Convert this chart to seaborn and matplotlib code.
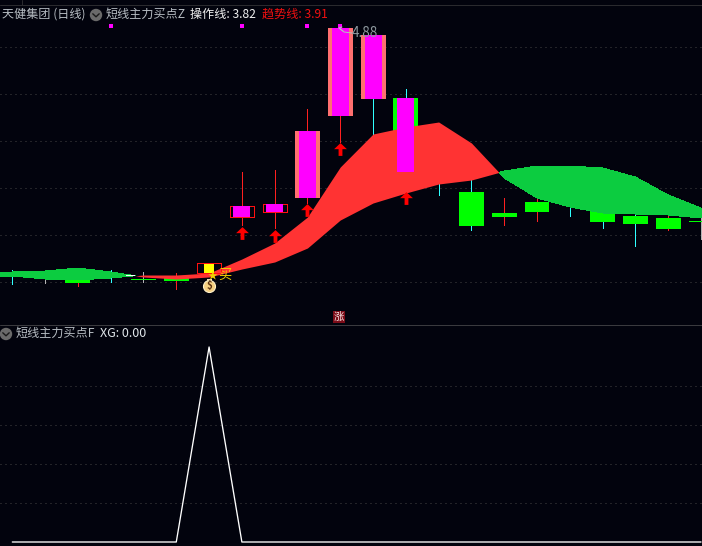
import numpy as np
import seaborn as sns
import matplotlib
matplotlib.use('Agg')
import matplotlib.pyplot as plt
from matplotlib.patches import Circle, Rectangle
from matplotlib.path import Path
from matplotlib.lines import Line2D
from matplotlib.transforms import IdentityTransform

# daily candles, prices
candle_top = [3.534, 3.529, 3.496, 3.529, 3.4955, 3.501, 3.5835, 3.897, 3.908, 4.31, 4.876,
              4.8375, 4.491, 4.26, 3.974, 3.8585, 3.919, 4.0125, 3.93, 3.842, 3.831, 3.8145]
candle_bottom = [3.512, 3.512, 3.474, 3.507, 3.49, 3.4845, 3.5285, 3.8365, 3.864, 3.941, 4.392,
                 4.4855, 4.084, 4.1225, 3.787, 3.8365, 3.864, 3.93, 3.809, 3.798, 3.7705, 3.809]
wick_high = [3.545, 3.545, 3.518, 3.545, 3.534, 3.5285, 3.5835, 4.084, 4.095, 4.43, 4.88,
             4.8375, 4.5405, 4.2, 4.04, 3.941, 3.9575, 4.0675, 3.985, 3.8585, 3.8585, 3.831]
wick_low = [3.468, 3.474, 3.457, 3.479, 3.479, 3.4405, 3.5285, 3.7925, 3.776, 3.9135, 4.249,
            4.2875, 4.084, 3.9575, 3.765, 3.7925, 3.8145, 3.842, 3.776, 3.677, 3.765, 3.7155]
candle_kind = ['down', 'down', 'down', 'down', 'down', 'down', 'box', 'box', 'box', 'up', 'up',
               'up', 'down', 'down', 'down', 'down', 'down', 'down', 'down', 'down', 'down', 'down']
wick_kind = ['cyan', 'grey', 'red', 'cyan', 'grey', 'red', 'red', 'red', 'red', 'red', 'red',
             'cyan', 'cyan', 'cyan', 'cyan', 'red', 'red', 'cyan', 'cyan', 'cyan', 'red', 'grey']

# signal candles drawn over the band
signal_day = [6, 7, 8, 9, 10, 11, 12]
signal_color = ['#ffff00', '#ff00ff', '#ff00ff', '#ff00ff', '#ff00ff', '#ff00ff', '#ff00ff']

# the two lines of the band, first point sits left of the first candle
band_day = list(range(-1, 22))
operate_line = [3.5065, 3.512, 3.4955, 3.49, 3.501, 3.5175, 3.5175, 3.5285, 3.6055, 3.6935, 3.8365, 4.1115,
                4.293, 4.3315, 4.359, 4.2435, 4.051, 3.941, 3.8915, 3.8585, 3.853, 3.8475, 3.831]
trend_line = [3.5285, 3.534, 3.5395, 3.556, 3.534, 3.5065, 3.4955, 3.5065, 3.5505, 3.589, 3.666, 3.82,
              3.9135, 3.9685, 4.018, 4.04, 4.0895, 4.117, 4.117, 4.106, 4.0565, 3.9575, 3.886]

arrow_day = [7, 8, 9, 10, 12]
arrow_price = [3.7485, 3.732, 3.875, 4.2105, 3.941]
dot_day = [3, 7, 9, 10]
dot_price = [4.887, 4.887, 4.887, 4.887]

# lower panel
xg_day = list(range(0, 22))
xg_value = [0, 0, 0, 0, 0, 0, 1, 0, 0, 0, 0, 0, 0, 0, 0, 0, 0, 0, 0, 0, 0, 0]

main_grid = [4.7715, 4.513, 4.2545, 3.996, 3.7375, 3.479]
lower_grid = [0.2, 0.4, 0.6, 0.8]

BG = '#02030d'
WICK = {'cyan': '#30ffff', 'grey': '#b4b4b4', 'red': '#ff2020'}
PX = 0.72  # one pixel in points

sns.set_theme(style='dark', rc={'axes.facecolor': BG, 'figure.facecolor': BG})
plt.rcParams['font.family'] = ['Noto Sans CJK SC', 'DejaVu Sans']

W, H = 702, 546
fig = plt.figure(figsize=(W / 100, H / 100), dpi=100)
ax = fig.add_axes([0, (H - 325) / H, 1, 325 / H])
ax2 = fig.add_axes([0, 0, 1, (H - 325) / H])
xlim = (-0.375, 21.03)

days = np.arange(len(candle_top))
top = np.array(candle_top)
bottom = np.array(candle_bottom)

# wicks
ax.vlines(days, wick_low, wick_high, colors=[WICK[k] for k in wick_kind], lw=PX, zorder=1, antialiased=False)

# candle bodies
for d, t, b, kind in zip(days, top, bottom, candle_kind):
    if kind == 'down':
        ax.bar(d, t - b, bottom=b, width=0.76, color='#00ff00', lw=0, zorder=2, antialiased=False)
    elif kind == 'up':
        ax.bar(d, t - b, bottom=b, width=0.76, color='#ff7070', lw=0, zorder=2, antialiased=False)
    else:
        ax.bar(d, t - b, bottom=b, width=0.74, color=BG, edgecolor='#ff1010', lw=PX, zorder=2, antialiased=False)

# band
op = np.array(operate_line)
tr = np.array(trend_line)
ax.fill_between(band_day, op, tr, where=op >= tr, interpolate=True, color='#ff3333', lw=0, zorder=3, antialiased=False)
ax.fill_between(band_day, op, tr, where=op <= tr, interpolate=True, color='#0ccc40', lw=0, zorder=3, antialiased=False)

# white tick where the lines cross
ax.hlines(3.5175, 3.47, 3.72, colors='white', lw=PX, zorder=4, antialiased=False)

# signal bodies stay over the band
for d, c in zip(signal_day, signal_color):
    w = 0.28 if d == 6 else 0.52
    ax.bar(d, top[d] - bottom[d], bottom=bottom[d], width=w, color=c, lw=0, zorder=4, antialiased=False)
# the signal box keeps its red outline on top of the yellow
ax.bar(6, top[6] - bottom[6], bottom=bottom[6], width=0.74, fill=False, edgecolor='#ff1010', lw=PX, zorder=4,
       antialiased=False)

# up arrows
arrow_path = Path([(-1, 0.05), (0, 1), (1, 0.05), (0.3, 0.05), (0.3, -1), (-0.3, -1), (-0.3, 0.05), (-1, 0.05)],
                  closed=True)
ax.scatter(arrow_day, arrow_price, marker=arrow_path, s=85, color='#ff0000', linewidths=0, zorder=5)

sns.scatterplot(x=dot_day, y=dot_price, ax=ax, marker='s', s=5, color='#ff00ff', linewidth=0, zorder=5)

ax.set_xlim(xlim)
ax.set_ylim(5.03 - 0.0055 * 325, 5.03)
ax.set_yticks(main_grid)
ax.set_xticks([])
ax.tick_params(left=False, labelleft=False, bottom=False)
ax.grid(axis='y', color='#444444', ls=(0, (1, 4)), lw=PX)
ax.set_axisbelow(True)
for s in ax.spines.values():
    s.set_visible(False)

# lower panel
sns.lineplot(x=xg_day, y=xg_value, ax=ax2, color='white', lw=0.95, zorder=3)
ax2.set_xlim(xlim)
ax2.set_ylim(-4 / 195, 217 / 195)
ax2.set_yticks(lower_grid)
ax2.set_xticks([])
ax2.set_xlabel('')
ax2.set_ylabel('')
ax2.tick_params(left=False, labelleft=False, bottom=False)
ax2.grid(axis='y', color='#444444', ls=(0, (1, 4)), lw=PX)
ax2.set_axisbelow(True)
for s in ax2.spines.values():
    s.set_visible(False)


def label(x, y, s, color='#b8bec4', size=8.7, **kw):
    fig.text(x / W, 1 - y / H, s, color=color, fontsize=size, va='center', ha='left', zorder=10, **kw)


def chevron(x, y):
    fig.add_artist(Circle((x, H - y), 6.2, transform=IdentityTransform(), color='#6a6a6a', lw=0, zorder=9))
    fig.add_artist(Line2D([x - 3.2, x, x + 3.2], [H - y + 1.2, H - y - 1.8, H - y + 1.2],
                          transform=IdentityTransform(), color='#1a1a1a', lw=1, zorder=10))


# frame lines
fig.add_artist(Line2D([0, W], [H - 5, H - 5], transform=IdentityTransform(), color='#2a2a2e', lw=PX))
fig.add_artist(Line2D([22, 22], [H - 5, H], transform=IdentityTransform(), color='#2a2a2e', lw=PX))
fig.add_artist(Line2D([0, W], [H - 325, H - 325], transform=IdentityTransform(), color='#3a3a3e', lw=PX, zorder=8))

label(2, 14.5, '天健集团 (日线)')
chevron(96, 15)
label(106, 14.5, '短线主力买点Z')
label(190, 14.5, '操作线: 3.82', color='#f0f0f0')
label(262, 14.5, '趋势线: 3.91', color='#f01010')

label(16, 333.5, '短线主力买点F')
label(100, 333.5, 'XG: 0.00', color='#e0e6ea', size=9)
chevron(6, 334)

# high price tag
fig.add_artist(Line2D([339, 344, 352], [H - 28, H - 32, H - 33], transform=IdentityTransform(),
                      color='#b8bcc0', lw=PX, zorder=10))
fig.add_artist(Line2D([342, 339, 343], [H - 27, H - 28, H - 31], transform=IdentityTransform(),
                      color='#b8bcc0', lw=PX, zorder=10))
label(352, 33, '4.88', color='#8f9aa0', size=9.8)

# buy mark and money bag
label(208, 276.5, '★', color='#f0d000', size=7)
label(218, 275.5, '买', color='#f0d000', size=9.5)
fig.add_artist(Circle((209.5, H - 286.5), 6, transform=IdentityTransform(), color='#f5cf80', ec='#fff0c8', lw=0.8,
                      zorder=9))
fig.add_artist(Rectangle((207, H - 282), 5, 3, transform=IdentityTransform(), color='#f0e0b0', lw=0, zorder=9))
fig.text(209.5 / W, 1 - 286.5 / H, '$', color='#5a3010', fontsize=7, ha='center', va='center', zorder=10,
         fontweight='bold')

# small rise badge
fig.add_artist(Rectangle((333, H - 323), 12, 12, transform=IdentityTransform(), color='#7c0c18', lw=0, zorder=9))
fig.text(339 / W, 1 - 317 / H, '涨', color='#f4e0e0', fontsize=7.5, ha='center', va='center', zorder=10)

fig.savefig('out.png', dpi=100, facecolor=BG)
